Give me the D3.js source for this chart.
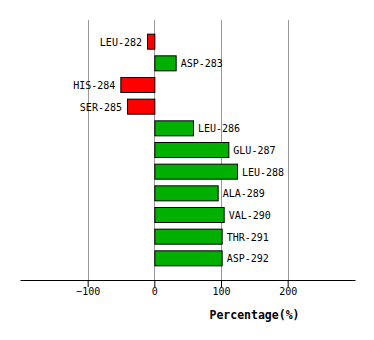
<!DOCTYPE html>
<html><head><meta charset="utf-8">
<script src="https://cdn.jsdelivr.net/npm/d3@7"></script>
<style>body{margin:0;background:#fff}svg{display:block}</style>
</head><body>
<svg id="c" width="374" height="340"></svg>
<script>
const categories = ["LEU-282","ASP-283","HIS-284","SER-285","LEU-286","GLU-287","LEU-288","ALA-289","VAL-290","THR-291","ASP-292"];
const values = [-11, 32, -51, -41, 58, 111, 124, 95, 104, 101, 101];
const tickValues = [-100, 0, 100, 200];
const axisTitle = "Percentage(%)";

(function () {
const svg = d3.select("#c");
const font = "'DejaVu Sans Mono', monospace";
const yTop = 20, yBot = 280, xLeft = 20, xRight = 355;
const x = d3.scaleLinear().domain([-201.5, 301]).range([xLeft, xRight]);
const step = (yBot - yTop) / (categories.length + 1);
const y = d3.scalePoint().domain(categories).range([yTop + step, yBot - step]);
const barH = 15;

// grid
svg.append("g").selectAll("line").data(tickValues).join("line")
  .attr("x1", d => Math.round(x(d)) + 0.5).attr("x2", d => Math.round(x(d)) + 0.5)
  .attr("y1", yTop).attr("y2", yBot)
  .attr("stroke", "#999").attr("stroke-width", 1);

// axis
const axis = d3.axisBottom(x).tickValues(tickValues).tickSize(7).tickSizeOuter(0).tickFormat(d3.format("d"));
const ag = svg.append("g").attr("transform", `translate(0,${yBot})`).call(axis);
ag.select(".domain").attr("stroke", "#000");
ag.selectAll(".tick line").attr("stroke", "#000");
ag.selectAll(".tick text").attr("font-family", font).attr("font-size", 10).attr("fill", "#000").attr("dy", "0.55em").attr("y", 9);

svg.append("text").attr("x", 254.5).attr("y", 315).attr("dominant-baseline", "middle")
  .attr("text-anchor", "middle").attr("font-family", font).attr("font-weight", "bold")
  .attr("font-size", 11.5).text(axisTitle);

// bars
const data = categories.map((c, i) => ({c, v: values[i]}));
svg.append("g").selectAll("rect").data(data).join("rect")
  .attr("x", d => Math.min(x(0), x(d.v)) + 0.5)
  .attr("y", d => y(d.c) - barH / 2)
  .attr("width", d => Math.abs(x(d.v) - x(0)))
  .attr("height", barH)
  .attr("fill", d => d.v < 0 ? "#ff0000" : "#00b000")
  .attr("stroke", "#000").attr("stroke-width", 1);

svg.append("g").selectAll("text").data(data).join("text")
  .attr("x", d => d.v < 0 ? x(d.v) - 5 : x(d.v) + 5)
  .attr("y", d => y(d.c) + 1)
  .attr("dominant-baseline", "middle")
  .attr("text-anchor", d => d.v < 0 ? "end" : "start")
  .attr("font-family", font).attr("font-size", 10).attr("fill", "#000")
  .text(d => d.c);
})();
</script>
</body></html>
